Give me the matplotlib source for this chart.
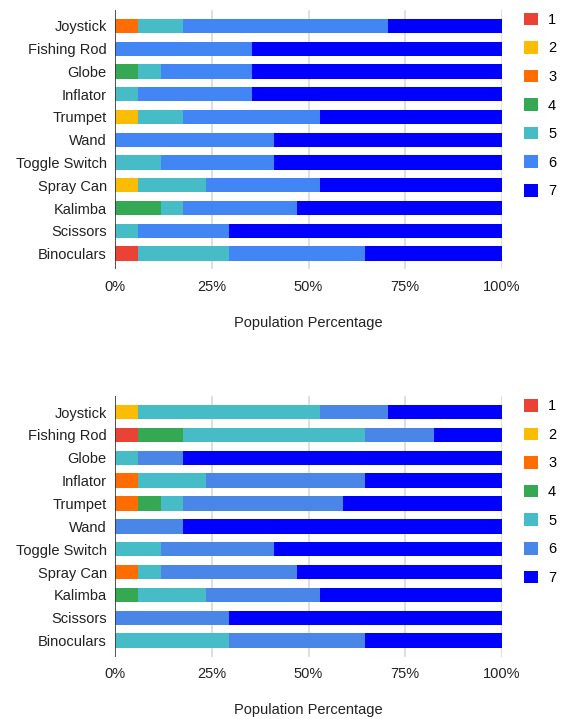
import matplotlib
matplotlib.use('Agg')
import matplotlib.pyplot as plt
import numpy as np

plt.rcParams['font.family'] = ['Liberation Sans', 'DejaVu Sans']

items = ['Joystick', 'Fishing Rod', 'Globe', 'Inflator', 'Trumpet', 'Wand',
         'Toggle Switch', 'Spray Can', 'Kalimba', 'Scissors', 'Binoculars']
levels = ['1', '2', '3', '4', '5', '6', '7']

# answer counts per level (1..7) for each item
top_counts = [
    [0, 0, 1, 0, 2, 9, 5],
    [0, 0, 0, 0, 0, 6, 11],
    [0, 0, 0, 1, 1, 4, 11],
    [0, 0, 0, 0, 1, 5, 11],
    [0, 1, 0, 0, 2, 6, 8],
    [0, 0, 0, 0, 0, 7, 10],
    [0, 0, 0, 0, 2, 5, 10],
    [0, 1, 0, 0, 3, 5, 8],
    [0, 0, 0, 2, 1, 5, 9],
    [0, 0, 0, 0, 1, 4, 12],
    [1, 0, 0, 0, 4, 6, 6],
]
bottom_counts = [
    [0, 1, 0, 0, 8, 3, 5],
    [1, 0, 0, 2, 8, 3, 3],
    [0, 0, 0, 0, 1, 2, 14],
    [0, 0, 1, 0, 3, 7, 6],
    [0, 0, 1, 1, 1, 7, 7],
    [0, 0, 0, 0, 0, 3, 14],
    [0, 0, 0, 0, 2, 5, 10],
    [0, 0, 1, 0, 1, 6, 9],
    [0, 0, 0, 1, 3, 5, 8],
    [0, 0, 0, 0, 0, 5, 12],
    [0, 0, 0, 0, 5, 6, 6],
]

top_colors = ['#EA4335', '#FBBC04', '#FF6D01', '#34A853', '#46BDC6', '#4285F4', '#0000FF']
bottom_colors = ['#EA4335', '#FBBC04', '#FF6D01', '#34A853', '#46BDC6', '#4A86E8', '#0000FF']

W, H = 564, 719
FS = 10.5
fig = plt.figure(figsize=(W / 100, H / 100), dpi=100)


def draw(ax, counts, colors, legend_top):
    counts = np.array(counts, dtype=float)
    pct = counts / counts.sum(axis=1, keepdims=True) * 100
    y = np.arange(len(items))
    left = np.zeros(len(items))
    for j, lev in enumerate(levels):
        ax.barh(y, pct[:, j], left=left, height=0.63, color=colors[j],
                label=lev, zorder=2, linewidth=0)
        left += pct[:, j]
    ax.set_xlim(0, 100)
    ax.set_ylim(len(items) - 0.5 + 0.2, -0.7)
    ax.set_yticks(y)
    ax.set_yticklabels(items)
    ax.set_xticks([0, 25, 50, 75, 100])
    ax.set_xticklabels(['0%', '25%', '50%', '75%', '100%'])
    ax.tick_params(axis='both', length=0, labelsize=FS, colors='#222222')
    ax.tick_params(axis='y', pad=6)
    ax.tick_params(axis='x', pad=7.5)
    for x in [25, 50, 75, 100]:
        ax.axvline(x, color='#d9d9d9', lw=1.2, zorder=1)
    ax.axvline(0, color='#333333', lw=1.2, zorder=3)
    for s in ax.spines.values():
        s.set_visible(False)
    ax.set_xlabel('Population Percentage', fontsize=FS, color='#222222', labelpad=16)
    ax.legend(loc='upper left', bbox_to_anchor=(524 / W, 1 - legend_top / H),
              bbox_transform=fig.transFigure, frameon=False, fontsize=FS,
              handlelength=0.95, handleheight=0.95, handletextpad=0.7,
              labelspacing=0.98, borderaxespad=0, borderpad=0)


ax1 = fig.add_axes([115 / W, 1 - 269.5 / H, 387 / W, 259.5 / H])
draw(ax1, top_counts, top_colors, 12.5)
ax2 = fig.add_axes([115 / W, 1 - 656.7 / H, 387 / W, 260.7 / H])
draw(ax2, bottom_counts, bottom_colors, 399)

fig.savefig('out.png', dpi=100)
